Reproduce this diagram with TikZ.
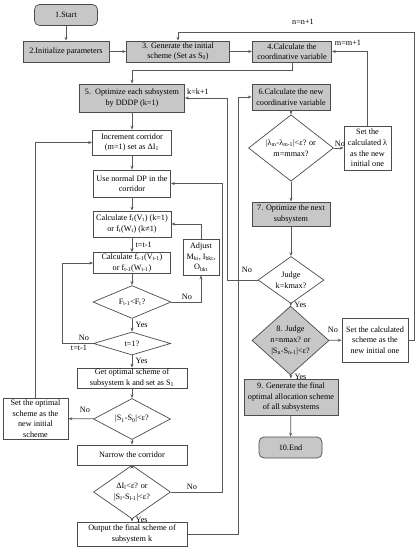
\documentclass[tikz,border=0pt]{standalone}
\usepackage{fontspec}
\setmainfont{Liberation Serif}
\usetikzlibrary{shapes.geometric,arrows.meta}
\newcommand{\lsub}[1]{\textsubscript{#1}}

\begin{document}
\begin{tikzpicture}[x=1pt, y=-1pt, font=\fontsize{8.2}{10.6}\selectfont,
    >={Stealth[length=4pt,width=3pt]},
    line/.style={draw=black!65, line width=0.7pt},
    pbox/.style={draw=black!70, line width=0.7pt, align=center, inner sep=1pt},
    gbox/.style={pbox, fill=black!22},
    tnode/.style={gbox, rounded corners=5pt},
    dnode/.style={diamond, draw=black!70, line width=0.7pt, align=center, inner sep=0pt},
    gdnode/.style={dnode, fill=black!22}]
    \useasboundingbox (0,0) rectangle (419,550);

    % left column
    \node[tnode, minimum width=63pt, minimum height=21pt] (start) at (66,15) {1.Start};
    \node[gbox, minimum width=86pt, minimum height=21pt] (init) at (66,51.5) {2.Initialize parameters};
    \node[gbox, minimum width=103pt, minimum height=21pt] (gen) at (178,51.5) {3. Generate the initial\\scheme (Set as S\lsub{0})};
    \node[gbox, minimum width=79pt, minimum height=21pt] (coord) at (292,51.5) {4.Calculate the\\coordinative variable};
    \node[gbox, minimum width=105pt, minimum height=28pt] (opt) at (132,98) {5.\ \ Optimize each subsystem\\by DDDP (k=1)};
    \node[pbox, minimum width=79pt, minimum height=25pt] (incr) at (132,142.5) {Increment corridor\\(m=1) set as ΔI\lsub{1}};
    \node[pbox, minimum width=77pt, minimum height=27pt] (ndp) at (132,183.5) {Use normal DP in the\\corridor};
    \node[pbox, minimum width=78pt, minimum height=26pt] (calc) at (132,224) {Calculate f\lsub{t}(V\lsub{t}) (k=1)\\or f\lsub{t}(W\lsub{t}) (k≠1)};
    \node[pbox, minimum width=77pt, minimum height=21pt] (calcb) at (132,263) {Calculate f\lsub{t-1}(V\lsub{t-1})\\or f\lsub{t-1}(W\lsub{t-1})};
    \node[pbox, minimum width=36pt, minimum height=36pt] (adj) at (201,257) {Adjust\\M\lsub{kt}, I\lsub{bkt},\\O\lsub{bkt}};
    \node[dnode, minimum width=78pt, minimum height=26pt] (cmpF) at (132,302) {F\lsub{t-1}<F\lsub{t}?};
    \node[dnode, minimum width=77pt, minimum height=23pt] (tone) at (132,343.5) {t=1?};
    \node[pbox, minimum width=110pt, minimum height=20pt] (getopt) at (132,378) {Get optimal scheme of\\subsystem k and set as S\lsub{1}};
    \node[dnode, minimum width=77pt, minimum height=26pt] (cmpS) at (132,419) {|S\lsub{1}-S\lsub{0}|<ε?};
    \node[pbox, minimum width=65pt, minimum height=41pt] (setopt) at (35.5,418.5) {Set the optimal\\scheme as the\\new initial\\scheme};
    \node[pbox, minimum width=110pt, minimum height=20pt] (narrow) at (132,455) {Narrow the corridor};
    \node[dnode, minimum width=77pt, minimum height=30pt] (cmpL) at (132,492) {ΔI\lsub{l}<ε? or\\|S\lsub{l}-S\lsub{l-1}|<ε?};
    \node[pbox, minimum width=110pt, minimum height=24pt] (out) at (132,534) {Output the final scheme of\\subsystem k};

    % right column
    \node[gbox, minimum width=78pt, minimum height=26pt] (newc) at (291,97) {6.Calculate the new\\coordinative variable};
    \node[dnode, minimum width=85pt, minimum height=33pt] (cmplam) at (291,148) {|λ\lsub{m}-λ\lsub{m-1}|<ε? or\\m=mmax?};
    \node[pbox, minimum width=47pt, minimum height=44pt] (setlam) at (367.5,148) {Set the\\calculated λ\\as the new\\initial one};
    \node[gbox, minimum width=78pt, minimum height=24pt] (optn) at (291,214) {7. Optimize the next\\subsystem};
    \node[dnode, minimum width=66pt, minimum height=30pt] (judgek) at (291,280) {Judge\\k=kmax?};
    \node[gdnode, minimum width=77pt, minimum height=45pt] (judgen) at (290.5,340.5) {8. Judge\\n=nmax? or\\|S\lsub{n}-S\lsub{n-1}|<ε?};
    \node[pbox, minimum width=66pt, minimum height=44pt] (setsch) at (375,340) {Set the calculated\\scheme as the\\new initial one};
    \node[gbox, minimum width=94pt, minimum height=36pt] (fin) at (291,397) {9. Generate the final\\optimal allocation scheme\\of all subsystems};
    \node[tnode, minimum width=63pt, minimum height=21pt] (fend) at (290.5,447.5) {10.End};

    % loop labels
    \node (lnn) at (303,22) {n=n+1};
    \node (lmm) at (348,43) {m=m+1};
    \node (lkk) at (198,92) {k=k+1};
    \node (lnk) at (247,270) {No};
    \node (lnf) at (187,297) {No};
    \node (lnt) at (84,338) {No};
    \node (ltt) at (79,348) {t=t-1};
    \node (lns) at (85,410) {No};
    \node (lnl) at (192,487) {No};
    \node (lnlam) at (340,144) {No};
    \node (lnn8) at (333,330) {No};

    % main flow
    \draw[line,->] (start) -- (init);
    \draw[line,->] (init) -- (gen);
    \draw[line,->] (gen) -- (coord);
    \draw[line,->] (coord.south) -- (292,70) -| (opt.north);
    \draw[line,->] (opt) -- (incr);
    \draw[line,->] (incr) -- (ndp);
    \draw[line,->] (ndp) -- (calc);
    \draw[line,->] (calc) edge node [pos=0.5, right] (ltm) {t=t-1} (calcb);
    \draw[line,->] (calcb) -- (cmpF);
    \draw[line,->] (cmpF) edge node [pos=0.5, right] (lyf) {Yes} (tone);
    \draw[line,->] (tone) edge node [pos=0.45, right] (lyt) {Yes} (getopt);
    \draw[line,->] (getopt) -- (cmpS);
    \draw[line,->] (cmpS) -- (narrow);
    \draw[line,->] (narrow) -- (cmpL);
    \draw[line,->] (cmpL) edge node [pos=0.4, right] (lyl) {Yes} (out);
    \draw[line,->] (newc) -- (cmplam);
    \draw[line,->] (cmplam) -- (optn);
    \draw[line,->] (optn) -- (judgek);
    \draw[line,->] (judgek) edge node [pos=0.5, right] (lyk) {Yes} (judgen);
    \draw[line,->] (judgen) edge node [pos=0.4, right] (lyn) {Yes} (fin);
    \draw[line,->] (fin) -- (fend);

    % feedback
    \draw[line,->] (cmpF.east) -| (adj.south);
    \draw[line,->] (adj.north) |- (calc.east);
    \draw[line,->] (tone.west) -- (62,343.5) |- (calcb.west);
    \draw[line,->] (cmpS) -- (setopt);
    \draw[line,->] (setopt.north) |- (incr.west);
    \draw[line,->] (cmpL.east) -- (222,492) |- (ndp.east);
    \draw[line,->] (out.east) -- (238,534) |- (newc.west);
    \draw[line,->] (judgek.west) -- (227,280) |- (opt.east);
    \draw[line,->] (cmplam) -- (setlam);
    \draw[line,->] (setlam.north) |- (coord.east);
    \draw[line,->] (judgen) -- (setsch);
    \draw[line,->] (setsch.east) -- (414,340) -- (414,32) -| (gen.north);
\end{tikzpicture}
\end{document}
